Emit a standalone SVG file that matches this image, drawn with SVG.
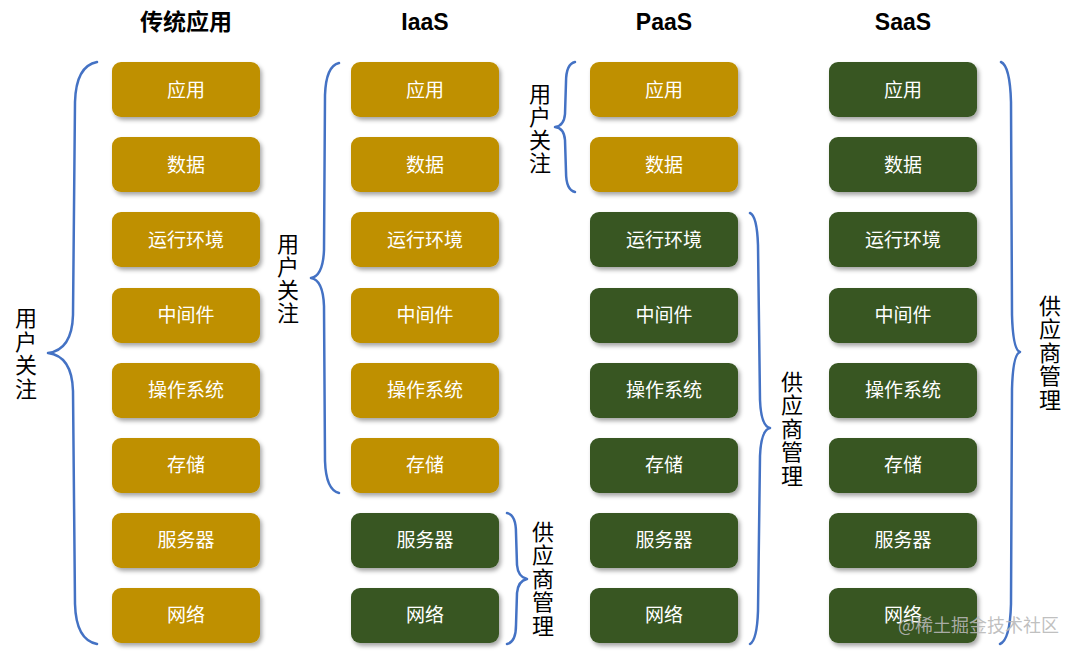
<svg xmlns="http://www.w3.org/2000/svg" width="1080" height="655" viewBox="0 0 1080 655">
<defs>
<filter id="sh" x="-10%" y="-10%" width="130%" height="140%">
<feDropShadow dx="2" dy="3" stdDeviation="2" flood-color="#000" flood-opacity="0.35"/>
</filter>
<style>
.g{fill:#BF9000;filter:url(#sh)}
.d{fill:#385723;filter:url(#sh)}
.t{font-family:"Noto Sans CJK SC","Liberation Sans",sans-serif;font-size:19px;fill:#FFFFFF;text-anchor:middle}
.h{font-family:"Liberation Sans","Noto Sans CJK SC",sans-serif;font-size:23px;font-weight:bold;fill:#000;text-anchor:middle}
.l{font-family:"Noto Sans CJK SC",sans-serif;font-size:22px;fill:#000;text-anchor:middle}
.b{fill:none;stroke:#4472C4;stroke-width:2.5;stroke-linecap:round;stroke-linejoin:round}
</style>
</defs>
<rect width="1080" height="655" fill="#FFFFFF"/>
<g id="headers">
<text class="h" x="186" y="30" font-family="Noto Sans CJK SC">传统应用</text>
<text class="h" x="425" y="30">IaaS</text>
<text class="h" x="664" y="30">PaaS</text>
<text class="h" x="903" y="30">SaaS</text>
</g>
<g id="col-traditional">
<g id="t1"><rect class="g" x="112" y="62" width="148" height="55" rx="9"/><text class="t" x="186" y="97">应用</text></g>
<g id="t2"><rect class="g" x="112" y="137" width="148" height="55" rx="9"/><text class="t" x="186" y="172">数据</text></g>
<g id="t3"><rect class="g" x="112" y="212" width="148" height="55" rx="9"/><text class="t" x="186" y="247">运行环境</text></g>
<g id="t4"><rect class="g" x="112" y="288" width="148" height="55" rx="9"/><text class="t" x="186" y="322">中间件</text></g>
<g id="t5"><rect class="g" x="112" y="363" width="148" height="55" rx="9"/><text class="t" x="186" y="397">操作系统</text></g>
<g id="t6"><rect class="g" x="112" y="438" width="148" height="55" rx="9"/><text class="t" x="186" y="472">存储</text></g>
<g id="t7"><rect class="g" x="112" y="513" width="148" height="55" rx="9"/><text class="t" x="186" y="547">服务器</text></g>
<g id="t8"><rect class="g" x="112" y="588" width="148" height="55" rx="9"/><text class="t" x="186" y="622">网络</text></g>
</g>
<g id="col-iaas">
<g id="i1"><rect class="g" x="351" y="62" width="148" height="55" rx="9"/><text class="t" x="425" y="97">应用</text></g>
<g id="i2"><rect class="g" x="351" y="137" width="148" height="55" rx="9"/><text class="t" x="425" y="172">数据</text></g>
<g id="i3"><rect class="g" x="351" y="212" width="148" height="55" rx="9"/><text class="t" x="425" y="247">运行环境</text></g>
<g id="i4"><rect class="g" x="351" y="288" width="148" height="55" rx="9"/><text class="t" x="425" y="322">中间件</text></g>
<g id="i5"><rect class="g" x="351" y="363" width="148" height="55" rx="9"/><text class="t" x="425" y="397">操作系统</text></g>
<g id="i6"><rect class="g" x="351" y="438" width="148" height="55" rx="9"/><text class="t" x="425" y="472">存储</text></g>
<g id="i7"><rect class="d" x="351" y="513" width="148" height="55" rx="9"/><text class="t" x="425" y="547">服务器</text></g>
<g id="i8"><rect class="d" x="351" y="588" width="148" height="55" rx="9"/><text class="t" x="425" y="622">网络</text></g>
</g>
<g id="col-paas">
<g id="p1"><rect class="g" x="590" y="62" width="148" height="55" rx="9"/><text class="t" x="664" y="97">应用</text></g>
<g id="p2"><rect class="g" x="590" y="137" width="148" height="55" rx="9"/><text class="t" x="664" y="172">数据</text></g>
<g id="p3"><rect class="d" x="590" y="212" width="148" height="55" rx="9"/><text class="t" x="664" y="247">运行环境</text></g>
<g id="p4"><rect class="d" x="590" y="288" width="148" height="55" rx="9"/><text class="t" x="664" y="322">中间件</text></g>
<g id="p5"><rect class="d" x="590" y="363" width="148" height="55" rx="9"/><text class="t" x="664" y="397">操作系统</text></g>
<g id="p6"><rect class="d" x="590" y="438" width="148" height="55" rx="9"/><text class="t" x="664" y="472">存储</text></g>
<g id="p7"><rect class="d" x="590" y="513" width="148" height="55" rx="9"/><text class="t" x="664" y="547">服务器</text></g>
<g id="p8"><rect class="d" x="590" y="588" width="148" height="55" rx="9"/><text class="t" x="664" y="622">网络</text></g>
</g>
<g id="col-saas">
<g id="s1"><rect class="d" x="829" y="62" width="148" height="55" rx="9"/><text class="t" x="903" y="97">应用</text></g>
<g id="s2"><rect class="d" x="829" y="137" width="148" height="55" rx="9"/><text class="t" x="903" y="172">数据</text></g>
<g id="s3"><rect class="d" x="829" y="212" width="148" height="55" rx="9"/><text class="t" x="903" y="247">运行环境</text></g>
<g id="s4"><rect class="d" x="829" y="288" width="148" height="55" rx="9"/><text class="t" x="903" y="322">中间件</text></g>
<g id="s5"><rect class="d" x="829" y="363" width="148" height="55" rx="9"/><text class="t" x="903" y="397">操作系统</text></g>
<g id="s6"><rect class="d" x="829" y="438" width="148" height="55" rx="9"/><text class="t" x="903" y="472">存储</text></g>
<g id="s7"><rect class="d" x="829" y="513" width="148" height="55" rx="9"/><text class="t" x="903" y="547">服务器</text></g>
<g id="s8"><rect class="d" x="829" y="588" width="148" height="55" rx="9"/><text class="t" x="903" y="622">网络</text></g>
</g>
<g id="connectors">
<path class="b" d="M97,62 Q76,66 75,102 L73,315 Q72,350 48,353 Q72,356 73,391 L75,604 Q76,640 97,644"/>
<path class="b" d="M339,63 Q326,66 325,95 L324,250 Q323,276 311,278 Q323,280 324,306 L325,461 Q326,490 339,493"/>
<path class="b" d="M507,513 Q516,515 516,533 L517,565 Q518,577 527,579 Q518,581 517,593 L516,625 Q516,642 507,644"/>
<path class="b" d="M575,62 Q566,64 566,82 L565,114 Q564,126 555,127 Q564,128 565,140 L566,172 Q566,190 575,192"/>
<path class="b" d="M750,213 Q757,216 758,245 L760,400 Q761,426 770,428 Q761,430 760,456 L758,611 Q757,640 750,644"/>
<path class="b" d="M1001,62 Q1010,66 1011,102 L1012,315 Q1013,350 1020,352 Q1013,354 1012,389 L1011,604 Q1010,640 1000,644"/>
</g>
<g id="labels">
<text class="l"><tspan x="26" y="326">用</tspan><tspan x="26" y="350">户</tspan><tspan x="26" y="373">关</tspan><tspan x="26" y="397">注</tspan></text>
<text class="l"><tspan x="288" y="252">用</tspan><tspan x="288" y="275">户</tspan><tspan x="288" y="298">关</tspan><tspan x="288" y="321">注</tspan></text>
<text class="l"><tspan x="543" y="540">供</tspan><tspan x="543" y="563">应</tspan><tspan x="543" y="587">商</tspan><tspan x="543" y="610">管</tspan><tspan x="543" y="634">理</tspan></text>
<text class="l"><tspan x="540" y="102">用</tspan><tspan x="540" y="125">户</tspan><tspan x="540" y="148">关</tspan><tspan x="540" y="171">注</tspan></text>
<text class="l"><tspan x="792" y="390">供</tspan><tspan x="792" y="413">应</tspan><tspan x="792" y="437">商</tspan><tspan x="792" y="460">管</tspan><tspan x="792" y="484">理</tspan></text>
<text class="l"><tspan x="1050" y="314">供</tspan><tspan x="1050" y="337">应</tspan><tspan x="1050" y="361">商</tspan><tspan x="1050" y="384">管</tspan><tspan x="1050" y="408">理</tspan></text>
</g>
<text x="898" y="632" font-family="Noto Sans CJK SC,sans-serif" font-size="18" fill="#B8B8B8" fill-opacity="0.9">@稀土掘金技术社区</text>
</svg>
